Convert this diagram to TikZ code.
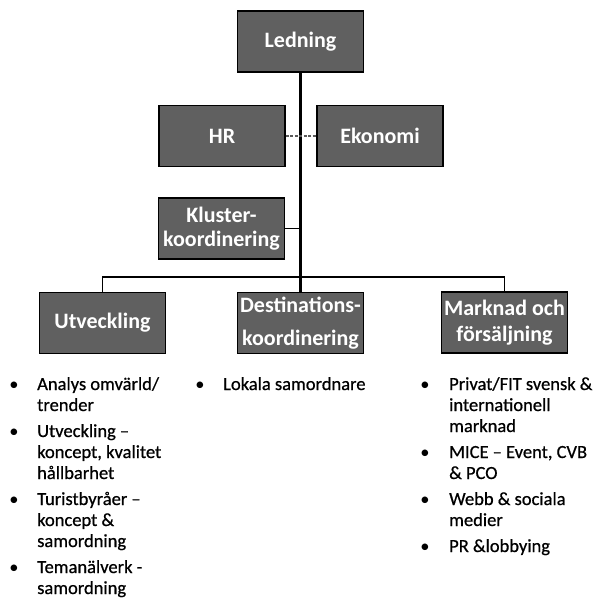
\documentclass[tikz,border=0pt]{standalone}
\usepackage{fontspec}
\setmainfont{Carlito}
\newfontfamily\listfont[FakeBold=0.7]{Carlito}
\definecolor{boxgray}{RGB}{96,96,96}
\definecolor{dashgray}{RGB}{90,90,90}
\begin{document}
\begin{tikzpicture}[x=1pt,y=-1pt,
  box/.style={draw=black, line width=1.2pt, fill=boxgray, text=white,
    font=\fontsize{22}{25}\selectfont\bfseries, inner sep=0pt,
    minimum width=126pt, minimum height=61pt, align=center},
  item/.style={anchor=base west, inner sep=0pt, font=\listfont\fontsize{18.5}{21}\selectfont},
  dotmark/.style={anchor=base, inner sep=0pt, font=\fontsize{18.5}{21}\selectfont},
  trunk/.style={line width=2.6pt},
  bar/.style={line width=1.8pt},
  side/.style={line width=1.2pt, dashgray, dashed, dash pattern=on 3pt off 1.5pt},
  kline/.style={line width=1.6pt}]
\useasboundingbox (0,0) rectangle (596,598);

% boxes
\node[box] (led) at (300.5,41.5) {Ledning};
\node[box] (hr) at (222,136) {HR};
\node[box] (eko) at (380,136) {Ekonomi};
\node[box, font=\fontsize{22}{24.5}\selectfont\bfseries] (klu) at (221.5,228.5) {Kluster-\\koordinering};
\node[box] (utv) at (102.5,323) {Utveckling};
\node[box, font=\fontsize{22}{33}\selectfont\bfseries] (dest) at (300.5,323) {Destinations-\\koordinering};
\node[box, font=\fontsize{22}{26}\selectfont\bfseries] (mark) at (504.5,322.5) {Marknad och\\försäljning};

% connectors
\coordinate (hub) at (300.5,277);
\draw[trunk] (led.south) -- (dest.north);
\draw[bar] (utv.north) |- (hub) -| (mark.north);
\draw[side] (hr.east) -- (eko.west);
\draw[kline] (klu.east) -- (klu.east -| led.south);

% left list
\foreach \t/\y [count=\i] in {{Analys omvärld/}/390, {trender}/411, {Utveckling –}/437,
  {koncept, kvalitet}/458, {hållbarhet}/479, {Turistbyråer –}/505, {koncept \&}/526,
  {samordning}/547, {Temanälverk -}/573, {samordning}/594}
  \node[item] (ul\i) at (37,\y) {\t};
\foreach \y [count=\i] in {390,437,505,573}
  \node[dotmark] (ub\i) at (14,\y) {•};

% middle list
\node[dotmark] (db1) at (200,390) {•};
\node[item] (dl1) at (223,390) {Lokala samordnare};

% right list
\foreach \t/\y [count=\i] in {{Privat/FIT svensk \&}/390, {internationell}/411, {marknad}/432,
  {MICE – Event, CVB}/458, {\& PCO}/479, {Webb \& sociala}/505, {medier}/526, {PR \&lobbying}/552}
  \node[item] (ml\i) at (449,\y) {\t};
\foreach \y [count=\i] in {390,458,505,552}
  \node[dotmark] (mb\i) at (425,\y) {•};
\end{tikzpicture}
\end{document}
